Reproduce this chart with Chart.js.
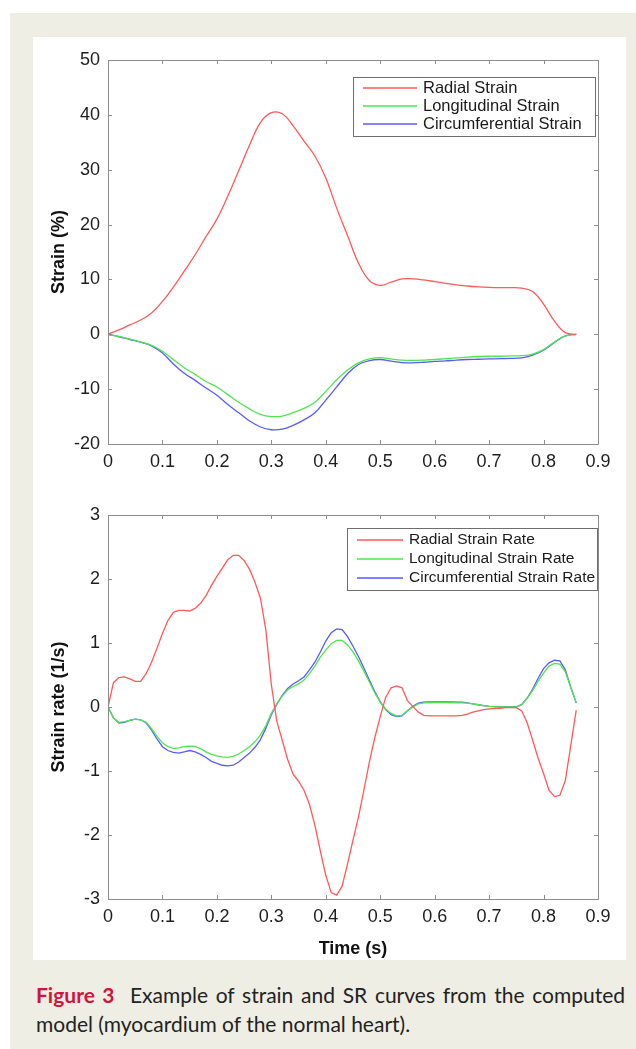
<!DOCTYPE html>
<html>
<head>
<meta charset="utf-8">
<script src="https://cdn.jsdelivr.net/npm/chart.js@4.4.1/dist/chart.umd.min.js"></script>
<style>
  body { margin: 0; background: #fff; width: 636px; height: 1049px; position: relative; overflow: hidden; }
  #panel { position: absolute; left: 10px; top: 13px; width: 626px; height: 1036px; background: #efeee4; }
  #sheet { position: absolute; left: 33px; top: 37px; width: 593px; height: 923px; background: #fff; }
  canvas { position: absolute; left: 33px; }
  #c1 { top: 37px; }
  #c2 { top: 495px; }
  #caption { position: absolute; left: 36px; top: 980px; width: 589px; font-family: Lato, "Open Sans", sans-serif;
             font-size: 21px; line-height: 29px; color: #222; }
  #caption .l1 { text-align: justify; text-align-last: justify; white-space: nowrap; }
  #caption b { color: #d2143c; }
</style>
</head>
<body>
<div id="panel"></div>
<div id="sheet"></div>
<canvas id="c1" width="593" height="453"></canvas>
<canvas id="c2" width="593" height="465"></canvas>
<div id="caption">
  <div class="l1"><b>Figure 3</b>&nbsp; Example of strain and SR curves from the computed</div>
  <div>model (myocardium of the normal heart).</div>
</div>
<script>
// top panel: strain (%) sampled every 0.02 s
const strainTime = [0, 0.02, 0.04, 0.06, 0.08, 0.10, 0.12, 0.14, 0.16, 0.18, 0.20, 0.22, 0.24, 0.26, 0.28,
  0.30, 0.32, 0.34, 0.36, 0.38, 0.40, 0.42, 0.44, 0.46, 0.48, 0.50, 0.52, 0.54, 0.56, 0.58, 0.60,
  0.62, 0.64, 0.66, 0.68, 0.70, 0.72, 0.74, 0.76, 0.78, 0.80, 0.82, 0.84, 0.86];
const radialStrain = [0, 0.8, 1.7, 2.6, 3.9, 6.0, 8.6, 11.5, 14.5, 17.8, 21.0, 25.2, 29.8, 34.5, 38.6,
  40.4, 40.2, 38.0, 35.2, 32.5, 28.5, 23.0, 18.0, 13.0, 9.8, 8.9, 9.5, 10.1, 10.1, 9.9, 9.6,
  9.3, 9.0, 8.8, 8.65, 8.55, 8.5, 8.5, 8.4, 7.8, 5.5, 2.4, 0.3, 0];
const longStrain = [0, -0.4, -0.9, -1.4, -2.0, -3.1, -4.6, -6.1, -7.3, -8.6, -9.6, -11.0, -12.4, -13.6, -14.6,
  -15.0, -14.9, -14.3, -13.5, -12.4, -10.4, -8.3, -6.5, -5.2, -4.5, -4.25, -4.5, -4.7, -4.75, -4.7, -4.6,
  -4.45, -4.3, -4.15, -4.05, -4.0, -4.0, -3.95, -3.9, -3.6, -2.8, -1.4, -0.3, 0];
const circStrain = [0, -0.45, -0.95, -1.45, -2.1, -3.4, -5.4, -7.1, -8.4, -9.8, -11.1, -12.8, -14.3, -15.8, -16.9,
  -17.4, -17.3, -16.6, -15.6, -14.3, -12.0, -9.6, -7.2, -5.5, -4.8, -4.6, -4.9, -5.15, -5.2, -5.1, -4.95,
  -4.85, -4.7, -4.6, -4.55, -4.5, -4.45, -4.4, -4.3, -3.8, -2.9, -1.5, -0.3, 0];

// bottom panel: strain rate (1/s) sampled every 0.01 s
const rateTime = [0, 0.01, 0.02, 0.03, 0.04, 0.05, 0.06, 0.07, 0.08, 0.09, 0.10, 0.11, 0.12, 0.13, 0.14,
  0.15, 0.16, 0.17, 0.18, 0.19, 0.20, 0.21, 0.22, 0.23, 0.24, 0.25, 0.26, 0.27, 0.28, 0.29, 0.30,
  0.31, 0.32, 0.33, 0.34, 0.35, 0.36, 0.37, 0.38, 0.39, 0.40, 0.41, 0.42, 0.43, 0.44, 0.45, 0.46,
  0.47, 0.48, 0.49, 0.50, 0.51, 0.52, 0.53, 0.54, 0.55, 0.56, 0.57, 0.58, 0.59, 0.60, 0.61, 0.62,
  0.63, 0.64, 0.65, 0.66, 0.67, 0.68, 0.69, 0.70, 0.71, 0.72, 0.73, 0.74, 0.75, 0.76, 0.77, 0.78,
  0.79, 0.80, 0.81, 0.82, 0.83, 0.84, 0.85, 0.86];
const radialRate = [0, 0.38, 0.46, 0.47, 0.44, 0.40, 0.40, 0.52, 0.70, 0.92, 1.15, 1.35, 1.48, 1.51, 1.51,
  1.50, 1.54, 1.62, 1.74, 1.90, 2.04, 2.17, 2.30, 2.37, 2.37, 2.29, 2.15, 1.95, 1.70, 1.20, 0.35,
  -0.22, -0.52, -0.82, -1.05, -1.16, -1.30, -1.52, -1.85, -2.25, -2.63, -2.90, -2.94, -2.80, -2.45, -2.08, -1.72,
  -1.30, -0.86, -0.48, -0.15, 0.15, 0.30, 0.33, 0.30, 0.10, 0.01, -0.08, -0.13, -0.14, -0.14, -0.14, -0.14,
  -0.14, -0.14, -0.13, -0.11, -0.08, -0.06, -0.04, -0.03, -0.02, -0.02, -0.01, -0.01, -0.01, -0.06, -0.25, -0.52,
  -0.80, -1.04, -1.30, -1.40, -1.38, -1.15, -0.60, -0.05];
const longRate = [0, -0.17, -0.24, -0.23, -0.21, -0.19, -0.20, -0.24, -0.34, -0.46, -0.56, -0.62, -0.645, -0.64, -0.62,
  -0.61, -0.615, -0.65, -0.70, -0.74, -0.765, -0.78, -0.787, -0.77, -0.735, -0.68, -0.62, -0.54, -0.44, -0.29, -0.10,
  0.05, 0.17, 0.27, 0.32, 0.36, 0.42, 0.52, 0.64, 0.78, 0.89, 0.99, 1.04, 1.04, 0.97, 0.86, 0.72,
  0.56, 0.39, 0.22, 0.08, -0.03, -0.10, -0.14, -0.13, -0.06, 0.0, 0.05, 0.065, 0.07, 0.07, 0.07, 0.07,
  0.07, 0.065, 0.065, 0.06, 0.05, 0.035, 0.02, 0.01, 0.005, 0, 0, 0, 0, 0.04, 0.14, 0.26,
  0.40, 0.53, 0.64, 0.68, 0.67, 0.55, 0.30, 0.07];
const circRate = [0, -0.17, -0.25, -0.24, -0.21, -0.19, -0.20, -0.25, -0.36, -0.50, -0.62, -0.68, -0.71, -0.72, -0.70,
  -0.68, -0.70, -0.74, -0.79, -0.85, -0.88, -0.91, -0.92, -0.91, -0.86, -0.79, -0.72, -0.63, -0.51, -0.33, -0.12,
  0.04, 0.18, 0.29, 0.36, 0.41, 0.47, 0.58, 0.70, 0.86, 1.03, 1.16, 1.22, 1.21, 1.10, 0.95, 0.79,
  0.61, 0.42, 0.24, 0.08, -0.04, -0.12, -0.15, -0.14, -0.06, 0.01, 0.06, 0.075, 0.08, 0.08, 0.08, 0.08,
  0.08, 0.075, 0.075, 0.065, 0.05, 0.035, 0.02, 0.01, 0.005, 0, 0, 0, 0, 0.04, 0.14, 0.28,
  0.45, 0.60, 0.69, 0.73, 0.72, 0.58, 0.31, 0.06];

const timeTicks = [0, 0.1, 0.2, 0.3, 0.4, 0.5, 0.6, 0.7, 0.8, 0.9];

const FONT = '"Liberation Sans", Arial, sans-serif';
const RED = '#ff5a5a', GREEN = '#4ee64e', BLUE = '#5a5aff';

const pts = (xs, ys) => ys.map((y, i) => ({ x: xs[i], y }));

// box round the plot with matlab style inward ticks
const frame = {
  id: 'frame',
  afterDraw(chart) {
    const { ctx, chartArea: { left, top, right, bottom }, scales: { x, y } } = chart;
    ctx.save();
    ctx.strokeStyle = '#8c8c8c';
    ctx.lineWidth = 1;
    ctx.beginPath();
    ctx.rect(Math.round(left) + 0.5, Math.round(top) + 0.5, Math.round(right - left), Math.round(bottom - top));
    x.ticks.forEach(t => {
      const px = Math.round(x.getPixelForValue(t.value)) + 0.5;
      ctx.moveTo(px, bottom); ctx.lineTo(px, bottom - 4);
      ctx.moveTo(px, top); ctx.lineTo(px, top + 4);
    });
    y.ticks.forEach(t => {
      const py = Math.round(y.getPixelForValue(t.value)) + 0.5;
      ctx.moveTo(left, py); ctx.lineTo(left + 4, py);
      ctx.moveTo(right, py); ctx.lineTo(right - 4, py);
    });
    ctx.stroke();
    ctx.restore();
  }
};

// boxed legend drawn inside the plot
const boxLegend = {
  id: 'boxLegend',
  afterDraw(chart, args, o) {
    const { ctx } = chart;
    ctx.save();
    ctx.fillStyle = '#fff';
    ctx.fillRect(o.x, o.y, o.w, o.h);
    ctx.strokeStyle = '#6e6e6e';
    ctx.lineWidth = 1;
    ctx.strokeRect(o.x + 0.5, o.y + 0.5, o.w, o.h);
    ctx.font = o.size + 'px ' + FONT;
    ctx.textBaseline = 'middle';
    chart.data.datasets.forEach((ds, i) => {
      const ly = o.y + o.first + i * o.gap;
      ctx.strokeStyle = ds.borderColor;
      ctx.lineWidth = 1.3;
      ctx.beginPath();
      ctx.moveTo(o.x + 10, ly); ctx.lineTo(o.x + 10 + o.line, ly);
      ctx.stroke();
      ctx.fillStyle = '#1a1a1a';
      ctx.fillText(ds.label, o.x + 16 + o.line, ly);
    });
    ctx.restore();
  }
};

function makeChart(id, time, series, labels, yOpts, xTitle, xHeight, padTop, legend) {
  return new Chart(document.getElementById(id), {
    type: 'line',
    data: {
      datasets: series.map((s, i) => ({
        label: labels[i],
        data: pts(time, s),
        borderColor: [RED, GREEN, BLUE][i],
        borderWidth: 1.3,
        pointRadius: 0,
        tension: yOpts.tension,
        fill: false,
      })),
    },
    options: {
      responsive: false,
      animation: false,
      layout: { padding: { left: 15, top: padTop, right: 28, bottom: 0 } },
      plugins: { legend: { display: false }, tooltip: { enabled: false }, boxLegend: legend },
      scales: {
        x: {
          type: 'linear', min: 0, max: 0.9,
          afterBuildTicks: s => { s.ticks = timeTicks.map(v => ({ value: v })); },
          afterFit: s => { s.height = xHeight; },
          grid: { display: false, drawTicks: false },
          border: { display: false },
          ticks: { padding: 7, color: '#1e1e1e', font: { family: FONT, size: 18 },
                   maxRotation: 0, callback: v => String(+v.toFixed(1)) },
          title: { display: !!xTitle, text: xTitle, color: '#111', padding: { top: 0, bottom: 0 },
                   font: { family: FONT, size: 18, weight: 'bold' } },
        },
        y: {
          min: yOpts.min, max: yOpts.max,
          afterBuildTicks: s => { s.ticks = yOpts.ticks.map(v => ({ value: v })); },
          afterFit: s => { s.width = 60; },
          grid: { display: false, drawTicks: false },
          border: { display: false },
          ticks: { padding: 8, color: '#1e1e1e', font: { family: FONT, size: 18 } },
          title: { display: true, text: yOpts.title, color: '#111', padding: 0,
                   font: { family: FONT, size: 18, weight: 'bold' } },
        },
      },
    },
    plugins: [frame, boxLegend],
  });
}

makeChart('c1', strainTime, [radialStrain, longStrain, circStrain],
  ['Radial Strain', 'Longitudinal Strain', 'Circumferential Strain'],
  { min: -20, max: 50, ticks: [-20, -10, 0, 10, 20, 30, 40, 50], title: 'Strain (%)', tension: 0.4 },
  '', 46, 23,
  { x: 320, y: 40, w: 242, h: 59, first: 11, gap: 18, line: 54, size: 16.5 });

makeChart('c2', rateTime, [radialRate, longRate, circRate],
  ['Radial Strain Rate', 'Longitudinal Strain Rate', 'Circumferential Strain Rate'],
  { min: -3, max: 3, ticks: [-3, -2, -1, 0, 1, 2, 3], title: 'Strain rate (1/s)', tension: 0 },
  'Time (s)', 61, 20,
  { x: 314, y: 33, w: 250, h: 62, first: 12, gap: 19, line: 46, size: 15.5 });
</script>
</body>
</html>
